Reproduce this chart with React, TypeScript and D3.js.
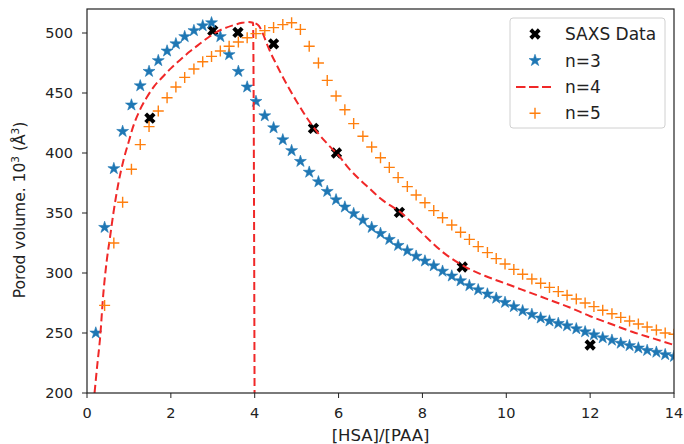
import React from "react";
import * as d3 from "d3";

const xTicks = [0, 2, 4, 6, 8, 10, 12, 14];
const yTicks = [200, 250, 300, 350, 400, 450, 500];

const saxsX = [1.5, 3.0, 3.6, 4.45, 5.4, 5.95, 7.45, 8.95, 12.0];
const saxsY = [429, 502, 500.5, 491, 420.5, 400, 350.5, 305, 240];

const gridX = [0.21, 0.42, 0.64, 0.85, 1.06, 1.27, 1.48, 1.7, 1.91, 2.12, 2.33, 2.55, 2.76, 2.97, 3.18, 3.39, 3.61, 3.82, 4.03, 4.24, 4.45, 4.67, 4.88, 5.09, 5.3, 5.52, 5.73, 5.94, 6.15, 6.36, 6.58, 6.79, 7.0, 7.21, 7.42, 7.64, 7.85, 8.06, 8.27, 8.48, 8.7, 8.91, 9.12, 9.33, 9.55, 9.76, 9.97, 10.18, 10.39, 10.61, 10.82, 11.03, 11.24, 11.45, 11.67, 11.88, 12.09, 12.3, 12.52, 12.73, 12.94, 13.15, 13.36, 13.58, 13.79, 14.0];

const n3Y = [250, 338, 387, 418, 440, 456, 468, 477, 485, 491, 497, 502, 506, 508.5, 497, 482, 468, 455, 443, 431, 421, 411, 402, 393, 384, 376, 368, 361, 355, 349.5, 344, 338, 333, 328, 323, 318.5, 314, 310, 306, 301.5, 297.5, 293.5, 289.5, 286, 282.5, 279, 275.5, 272, 268.5, 265.5, 262.5, 260, 258, 256, 253.5, 251, 248.5, 246, 244, 241.5, 239.5, 237.5, 235.5, 234, 232, 230.5];

const n5Y = [160, 273, 325, 359, 386.5, 407, 422, 435, 446, 455, 463, 470, 476, 480.5, 485, 489, 492.5, 496, 499.5, 502, 504.5, 507, 508.5, 503, 489, 475, 460.5, 447.5, 436, 424.5, 414, 405, 396, 388, 379.5, 372, 365, 358.5, 352, 346, 340, 334, 328, 322, 317, 312, 307.5, 303, 299, 295, 291.5, 288, 284.5, 281.5, 278.3, 275, 272, 269, 266, 263, 260, 257.5, 255, 252.5, 250, 249];

const n4X = [0.18, 0.25, 0.31, 0.39, 0.47, 0.55, 0.63, 0.75, 0.87, 1.0, 1.1, 1.25, 1.42, 1.6, 1.82, 2.0, 2.22, 2.45, 2.69, 2.9, 3.05, 3.25, 3.49, 3.7, 3.85, 3.96, 4.0, NaN, 4.02, 4.1, 4.2, 4.3, 4.4, 4.5, 4.6, 4.8, 5.0, 5.25, 5.5, 5.75, 6.0, 6.25, 6.5, 6.75, 7.0, 7.5, 8.0, 8.5, 9.0, 9.5, 10, 10.5, 11, 11.5, 12, 12.5, 13, 13.5, 14];
const n4Y = [200, 225, 245, 283, 310, 330, 350, 375, 394, 410, 422, 435, 446, 455.5, 464, 470.5, 477.5, 484.5, 491, 496.5, 500, 503.5, 506.5, 508.5, 509.2, 508.5, 150, NaN, 508, 506, 499, 490, 482, 475, 468, 455, 443, 429, 417, 407, 398, 387, 378, 370, 362, 350, 333, 317, 305.5, 297.5, 291, 284.5, 278, 271.5, 264, 257.5, 251, 245.5, 240];

const legendLabels = ["SAXS Data", "n=3", "n=4", "n=5"];

const W = 684;
const H = 444;
const M = { left: 87, right: 10, top: 9, bottom: 51 };
const BLUE = "#1f77b4";
const ORANGE = "#ff7f0e";
const RED = "#f02828";
const FONT = "DejaVu Sans, sans-serif";

const x = d3.scaleLinear().domain([0, 14]).range([M.left, W - M.right]);
const y = d3.scaleLinear().domain([200, 520]).range([H - M.bottom, M.top]);

const starPath = d3.symbol(d3.symbolStar, 44)() as string;
const xMarkPath = d3.symbol(d3.symbolCross, 80)() as string;
const PLUS = 5.5;

function Star({ cx, cy }: { cx: number; cy: number }) {
  return <path d={starPath} transform={`translate(${cx},${cy})`} fill={BLUE} stroke={BLUE} strokeWidth={0.6} />;
}
function XMark({ cx, cy }: { cx: number; cy: number }) {
  return <path d={xMarkPath} transform={`translate(${cx},${cy}) rotate(45)`} fill="#000" />;
}
function Plus({ cx, cy }: { cx: number; cy: number }) {
  return (
    <path
      d={`M${cx - PLUS},${cy}H${cx + PLUS}M${cx},${cy - PLUS}V${cy + PLUS}`}
      stroke={ORANGE}
      strokeWidth={1.4}
      fill="none"
    />
  );
}

export default function App() {
  const n4Data = n4X.map((v, i) => [v, n4Y[i]] as [number, number]);
  const line = d3
    .line<[number, number]>()
    .defined((d) => !isNaN(d[0]) && !isNaN(d[1]))
    .x((d) => x(d[0]))
    .y((d) => y(d[1]))
    .curve(d3.curveMonotoneX);

  const x0 = M.left, x1 = W - M.right, y0 = M.top, y1 = H - M.bottom;
  const legendRowY = [34, 60.5, 87, 113.3];
  const lx = 535;

  return (
    <svg width={W} height={H} style={{ position: "absolute", left: 0, top: 0, background: "#fff" }} fontFamily={FONT}>
      <defs>
        <clipPath id="plotClip">
          <rect x={x0} y={y0} width={x1 - x0} height={y1 - y0} />
        </clipPath>
      </defs>
      <rect x={0} y={0} width={W} height={H} fill="#fff" />
      <g clipPath="url(#plotClip)">
        {saxsX.map((v, i) => (
          <XMark key={"s" + i} cx={x(v)} cy={y(saxsY[i])} />
        ))}
        {gridX.map((v, i) => (
          <Star key={"a" + i} cx={x(v)} cy={y(n3Y[i])} />
        ))}
        <path d={line(n4Data) as string} fill="none" stroke={RED} strokeWidth={2} strokeDasharray="8,4" />
        {gridX.map((v, i) => (
          <Plus key={"p" + i} cx={x(v)} cy={y(n5Y[i])} />
        ))}
      </g>
      {/* frame */}
      <rect x={x0} y={y0} width={x1 - x0} height={y1 - y0} fill="none" stroke="#222" strokeWidth={1.2} />
      {/* x ticks */}
      {xTicks.map((t) => (
        <g key={"xt" + t}>
          <line x1={x(t)} x2={x(t)} y1={y1} y2={y1 + 5} stroke="#222" strokeWidth={1} />
          <text x={x(t)} y={418} textAnchor="middle" fontSize={14.5} fill="#222">
            {t}
          </text>
        </g>
      ))}
      {yTicks.map((t) => (
        <g key={"yt" + t}>
          <line x1={x0 - 5} x2={x0} y1={y(t)} y2={y(t)} stroke="#222" strokeWidth={1} />
          <text x={73} y={y(t) + 5.3} textAnchor="end" fontSize={14.5} fill="#222">
            {t}
          </text>
        </g>
      ))}
      <text x={(x0 + x1) / 2} y={441} textAnchor="middle" fontSize={16.5} fill="#222">
        [HSA]/[PAA]
      </text>
      <text transform={`translate(25,${(y0 + y1) / 2 + 9}) rotate(-90)`} textAnchor="middle" fontSize={15.5} fill="#222">
        Porod volume. 10<tspan fontSize={10.5} dy={-6}>3</tspan>
        <tspan dy={6}> (Å</tspan>
        <tspan fontSize={10.5} dy={-6}>3</tspan>
        <tspan dy={6}>)</tspan>
      </text>
      {/* legend */}
      <rect x={510} y={18} width={155} height={110} rx={3} fill="#fff" fillOpacity={0.85} stroke="#d0d0d0" strokeWidth={1} />
      <XMark cx={lx} cy={legendRowY[0]} />
      <Star cx={lx} cy={legendRowY[1]} />
      <line x1={516} x2={551} y1={legendRowY[2]} y2={legendRowY[2]} stroke={RED} strokeWidth={2} strokeDasharray="9.5,3.5" />
      <Plus cx={lx} cy={legendRowY[3]} />
      {legendLabels.map((l, i) => (
        <text key={l} x={565} y={legendRowY[i] + 6} fontSize={17} fill="#222">
          {l}
        </text>
      ))}
    </svg>
  );
}
